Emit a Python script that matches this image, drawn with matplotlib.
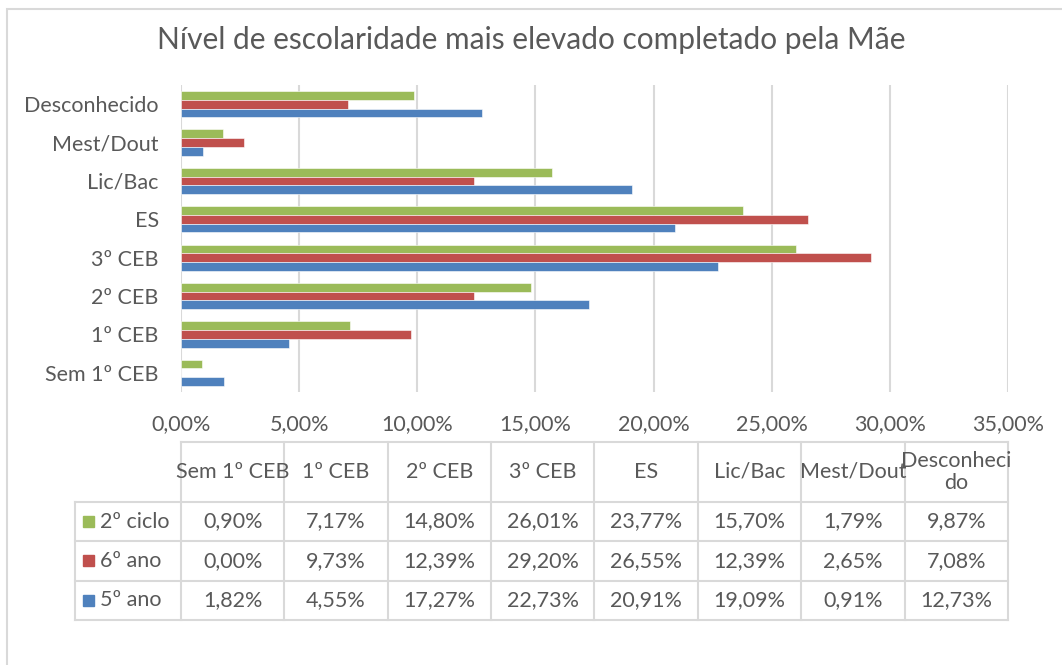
import numpy as np
import matplotlib.pyplot as plt
from matplotlib.patches import Rectangle

plt.rcParams['font.family'] = ['Lato', 'DejaVu Sans']

categorias = ['Sem 1º CEB', '1º CEB', '2º CEB', '3º CEB', 'ES', 'Lic/Bac', 'Mest/Dout', 'Desconhecido']
cabecalho = ['Sem 1º CEB', '1º CEB', '2º CEB', '3º CEB', 'ES', 'Lic/Bac', 'Mest/Dout', 'Desconheci\ndo']
series = ['2º ciclo', '6º ano', '5º ano']
ciclo2 = [0.90, 7.17, 14.80, 26.01, 23.77, 15.70, 1.79, 9.87]
ano6 = [0.00, 9.73, 12.39, 29.20, 26.55, 12.39, 2.65, 7.08]
ano5 = [1.82, 4.55, 17.27, 22.73, 20.91, 19.09, 0.91, 12.73]
valores = [ciclo2, ano6, ano5]
cores = ['#9BBB59', '#C0504D', '#4F81BD']
cinza = '#D9D9D9'
texto = '#595959'
fs = 15.5

W, H = 1062, 665
fig = plt.figure(figsize=(W / 100, H / 100), dpi=100)

def caixa(x0, y0, x1, y1):
    return [x0 / W, 1 - y1 / H, (x1 - x0) / W, (y1 - y0) / H]

# moldura do gráfico (só topo e esquerda ficam visíveis)
fig.patches.append(Rectangle((7 / W, -0.1), 1.2, 1 - 9 / H + 0.1, transform=fig.transFigure,
                             fill=False, edgecolor=cinza, lw=1.5))

fig.text(0.5, 1 - 40 / H, 'Nível de escolaridade mais elevado completado pela Mãe',
         ha='center', va='center', fontsize=21.5, color=texto)

ax = fig.add_axes(caixa(181, 85, 1008, 392))
y = np.arange(len(categorias))
h = 0.227
for i, (vals, cor) in enumerate(zip(valores, cores)):
    ax.barh(y + (1 - i) * h, vals, height=h, color=cor, edgecolor='white', lw=0.4, zorder=3)
ax.set_xlim(0, 35)
ax.set_ylim(-0.5, len(categorias) - 0.5)
ax.set_yticks(y)
ax.set_yticklabels(categorias)
ax.set_xticks(np.arange(0, 36, 5))
ax.set_xticklabels([f'{v:.2f}%'.replace('.', ',') for v in np.arange(0, 36, 5)])
ax.tick_params(length=0, labelsize=fs, labelcolor=texto)
ax.tick_params(axis='x', pad=16)
ax.tick_params(axis='y', pad=16)
ax.grid(axis='x', color=cinza, lw=1.5, zorder=0)
for s in ax.spines.values():
    s.set_visible(False)

# tabela de dados
tx = fig.add_axes(caixa(75, 442, 1008, 620))
x_esq = -106 / 103.4
hh = 60 / 39.5
tx.set_xlim(x_esq, 8)
tx.set_ylim(0, 3 + hh)
tx.axis('off')
kw = dict(color=cinza, lw=1.5, clip_on=False)
tx.plot([0, 8], [3 + hh, 3 + hh], **kw)
for yy in [0, 1, 2, 3]:
    tx.plot([x_esq, 8], [yy, yy], **kw)
for xx in range(9):
    tx.plot([xx, xx], [0, 3 + hh], **kw)
tx.plot([x_esq, x_esq], [0, 3], **kw)
for j, lab in enumerate(cabecalho):
    tx.text(j + 0.5, 3 + hh / 2, lab, ha='center', va='center', fontsize=fs,
            color=texto, linespacing=1.15)
for i, (nome, vals, cor) in enumerate(zip(series, valores, cores)):
    yc = 2.5 - i
    tx.add_patch(Rectangle((x_esq + 8 / 103.4, yc - 0.14), 11 / 103.4, 11 / 39.5,
                           color=cor, clip_on=False))
    tx.text(x_esq + 25 / 103.4, yc, nome, ha='left', va='center', fontsize=fs, color=texto)
    for j, v in enumerate(vals):
        tx.text(j + 0.5, yc, f'{v:.2f}%'.replace('.', ','), ha='center', va='center',
                fontsize=fs, color=texto)

fig.savefig('out.png', dpi=100)
